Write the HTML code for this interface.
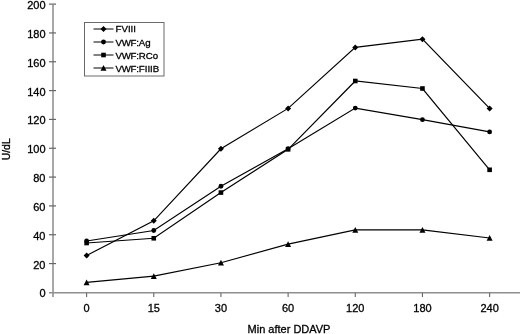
<!DOCTYPE html>
<html><head><meta charset="utf-8"><style>
html,body{margin:0;padding:0;background:#fff;}
body{width:520px;height:334px;overflow:hidden;position:relative;}
svg{position:absolute;left:0;top:0;will-change:transform;}
text{font-family:"Liberation Sans",sans-serif;font-size:11px;fill:#000;stroke:#000;stroke-width:0.3px;}
</style></head><body>
<svg width="520" height="334" viewBox="0 0 520 334">

<line x1="53" y1="4.5" x2="53" y2="297" stroke="#a8a8a8" stroke-width="2"/>
<line x1="49" y1="292.7" x2="520" y2="292.7" stroke="#8f8f8f" stroke-width="1.4"/>
<g stroke="#666" fill="none" stroke-width="1.2">
<line x1="49" y1="263.57" x2="56" y2="263.57"/>
<line x1="49" y1="234.74" x2="56" y2="234.74"/>
<line x1="49" y1="205.91" x2="56" y2="205.91"/>
<line x1="49" y1="177.08" x2="56" y2="177.08"/>
<line x1="49" y1="148.25" x2="56" y2="148.25"/>
<line x1="49" y1="119.42" x2="56" y2="119.42"/>
<line x1="49" y1="90.59" x2="56" y2="90.59"/>
<line x1="49" y1="61.76" x2="56" y2="61.76"/>
<line x1="49" y1="32.93" x2="56" y2="32.93"/>
<line x1="49" y1="4.10" x2="56" y2="4.10"/>
<line x1="86.60" y1="293" x2="86.60" y2="297" stroke-width="1.1"/>
<line x1="153.77" y1="293" x2="153.77" y2="297" stroke-width="1.1"/>
<line x1="220.94" y1="293" x2="220.94" y2="297" stroke-width="1.1"/>
<line x1="288.11" y1="293" x2="288.11" y2="297" stroke-width="1.1"/>
<line x1="355.28" y1="293" x2="355.28" y2="297" stroke-width="1.1"/>
<line x1="422.45" y1="293" x2="422.45" y2="297" stroke-width="1.1"/>
<line x1="489.62" y1="293" x2="489.62" y2="297" stroke-width="1.1"/>
</g>
<g text-anchor="end">
<text x="45.5" y="297.40">0</text>
<text x="45.5" y="268.57">20</text>
<text x="45.5" y="239.74">40</text>
<text x="45.5" y="210.91">60</text>
<text x="45.5" y="182.08">80</text>
<text x="45.5" y="153.25">100</text>
<text x="45.5" y="124.42">120</text>
<text x="45.5" y="95.59">140</text>
<text x="45.5" y="66.76">160</text>
<text x="45.5" y="37.93">180</text>
<text x="45.5" y="9.10">200</text>
</g>
<g text-anchor="middle">
<text x="86.60" y="312">0</text>
<text x="153.77" y="312">15</text>
<text x="220.94" y="312">30</text>
<text x="288.11" y="312">60</text>
<text x="355.28" y="312">120</text>
<text x="422.45" y="312">180</text>
<text x="489.62" y="312">240</text>
</g>
<text x="289" y="333" text-anchor="middle">Min after DDAVP</text>
<text transform="translate(9.6,149.3) rotate(-90)" text-anchor="middle" style="font-size:10.4px">U/dL</text>
<polyline points="86.60,255.42 153.77,220.82 220.94,148.75 288.11,108.39 355.28,47.41 422.45,39.20 489.62,108.39" fill="none" stroke="#000" stroke-width="1.2"/>
<g fill="#000"><path d="M86.60 252.42L89.60 255.42L86.60 258.42L83.60 255.42Z"/><path d="M153.77 217.82L156.77 220.82L153.77 223.82L150.77 220.82Z"/><path d="M220.94 145.75L223.94 148.75L220.94 151.75L217.94 148.75Z"/><path d="M288.11 105.39L291.11 108.39L288.11 111.39L285.11 108.39Z"/><path d="M355.28 44.41L358.28 47.41L355.28 50.41L352.28 47.41Z"/><path d="M422.45 36.20L425.45 39.20L422.45 42.20L419.45 39.20Z"/><path d="M489.62 105.39L492.62 108.39L489.62 111.39L486.62 108.39Z"/></g>
<polyline points="86.60,241.01 153.77,230.48 220.94,186.23 288.11,148.75 355.28,108.10 422.45,119.63 489.62,131.88" fill="none" stroke="#000" stroke-width="1.2"/>
<g fill="#000"><circle cx="86.60" cy="241.01" r="2.4"/><circle cx="153.77" cy="230.48" r="2.4"/><circle cx="220.94" cy="186.23" r="2.4"/><circle cx="288.11" cy="148.75" r="2.4"/><circle cx="355.28" cy="108.10" r="2.4"/><circle cx="422.45" cy="119.63" r="2.4"/><circle cx="489.62" cy="131.88" r="2.4"/></g>
<polyline points="86.60,243.02 153.77,238.27 220.94,192.57 288.11,149.33 355.28,81.00 422.45,88.50 489.62,169.80" fill="none" stroke="#000" stroke-width="1.2"/>
<g fill="#000"><rect x="84.30" y="240.72" width="4.6" height="4.6"/><rect x="151.47" y="235.97" width="4.6" height="4.6"/><rect x="218.64" y="190.27" width="4.6" height="4.6"/><rect x="285.81" y="147.03" width="4.6" height="4.6"/><rect x="352.98" y="78.70" width="4.6" height="4.6"/><rect x="420.15" y="86.20" width="4.6" height="4.6"/><rect x="487.32" y="167.50" width="4.6" height="4.6"/></g>
<polyline points="86.60,282.38 153.77,276.18 220.94,262.77 288.11,244.18 355.28,229.91 422.45,229.91 489.62,237.98" fill="none" stroke="#000" stroke-width="1.2"/>
<g fill="#000"><path d="M86.60 279.38L89.60 285.18L83.60 285.18Z"/><path d="M153.77 273.18L156.77 278.98L150.77 278.98Z"/><path d="M220.94 259.77L223.94 265.57L217.94 265.57Z"/><path d="M288.11 241.18L291.11 246.98L285.11 246.98Z"/><path d="M355.28 226.91L358.28 232.71L352.28 232.71Z"/><path d="M422.45 226.91L425.45 232.71L419.45 232.71Z"/><path d="M489.62 234.98L492.62 240.78L486.62 240.78Z"/></g>
<rect x="84.5" y="22.5" width="79.5" height="53.5" fill="#fff" stroke="#6a6a6a" stroke-width="1"/>
<line x1="93.5" y1="29" x2="113.5" y2="29" stroke="#222" stroke-width="1.15"/>
<g fill="#000"><path d="M103.50 26.00L106.50 29.00L103.50 32.00L100.50 29.00Z"/></g>
<text x="115.5" y="32.3" style="font-size:9.7px;stroke-width:0.3px">FVIII</text>
<line x1="93.5" y1="42" x2="113.5" y2="42" stroke="#222" stroke-width="1.15"/>
<g fill="#000"><circle cx="103.50" cy="42.00" r="2.4"/></g>
<text x="115.5" y="45.7" style="font-size:9.7px;stroke-width:0.3px"><tspan letter-spacing="-0.3">VWF</tspan>:Ag</text>
<line x1="93.5" y1="55" x2="113.5" y2="55" stroke="#222" stroke-width="1.15"/>
<g fill="#000"><rect x="101.20" y="52.70" width="4.6" height="4.6"/></g>
<text x="115.5" y="58.7" style="font-size:9.7px;stroke-width:0.3px"><tspan letter-spacing="-0.3">VWF</tspan>:RCo</text>
<line x1="93.5" y1="68" x2="113.5" y2="68" stroke="#222" stroke-width="1.15"/>
<g fill="#000"><path d="M103.50 65.00L106.50 70.80L100.50 70.80Z"/></g>
<text x="115.5" y="71.7" style="font-size:9.7px;stroke-width:0.3px"><tspan letter-spacing="-0.3">VWF</tspan>:FIIIB</text>
</svg></body></html>
